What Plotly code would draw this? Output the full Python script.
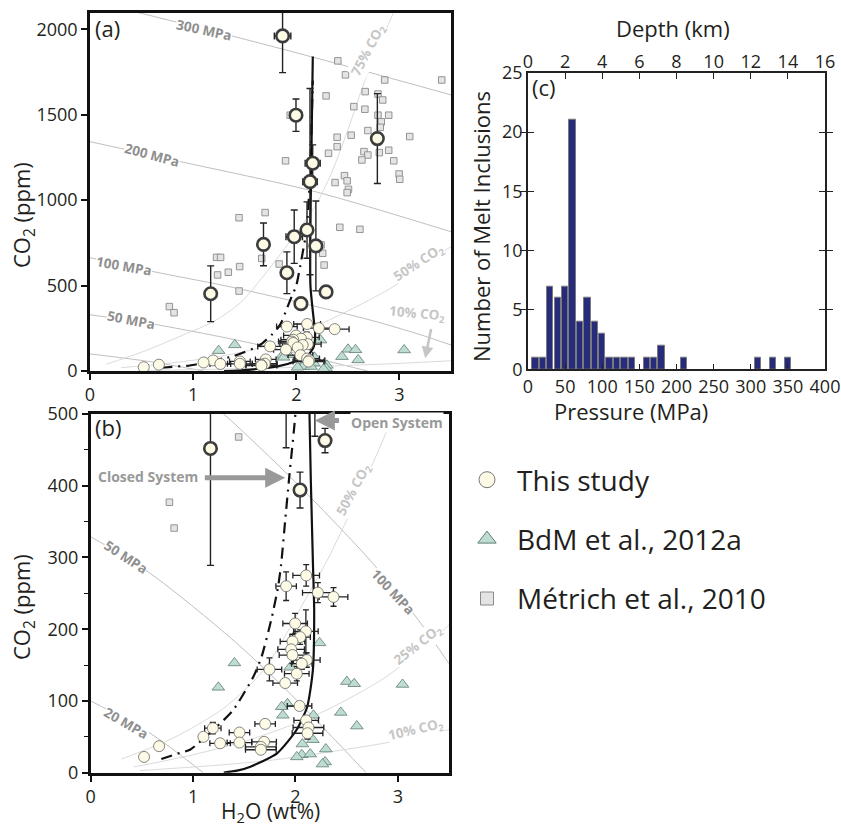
import plotly.graph_objects as go

# ---------------- data ----------------
# This study: high-CO2 inclusions (bold outline)
TS_HI_H2O = [1.867, 1.997, 2.786, 2.159, 2.133, 2.104, 1.98, 1.682, 2.19, 1.909, 1.17, 2.289, 2.045]
TS_HI_CO2 = [1961, 1497, 1360, 1216, 1108, 825, 786, 741, 732, 575, 452, 463, 394]
TS_HI_H2O_ERR = [0.08, 0, 0, 0.073, 0.07, 0, 0.08, 0, 0, 0, 0, 0, 0]
TS_HI_CO2_ERR = [215, 95, 263, 107, 545, 165, 156, 125, 263, 122, 163, 17, 25]

# This study: low-CO2 inclusions
TS_LO_H2O = [2.105, 1.909, 2.219, 2.372, 1.997, 2.102, 2.046, 1.971, 1.958, 1.971, 2.111, 2.062,
             2.013, 1.746, 1.900, 2.040, 2.105, 1.704, 2.127, 2.118, 1.193, 1.101, 1.453, 1.453,
             1.264, 1.694, 1.662, 1.662, 0.668, 0.521]
TS_LO_CO2 = [275, 260, 251, 245, 208, 197, 189, 183, 172, 164, 157, 152,
             138, 144, 125, 93, 73, 68, 63, 55, 62, 50, 56, 42,
             41, 43, 36, 32, 37, 22]
TS_LO_H2O_ERR = [0.13, 0.10, 0.15, 0.14, 0.12, 0.12, 0.10, 0.12, 0.13, 0.13, 0.13, 0.10,
                 0.12, 0.12, 0.12, 0.12, 0.12, 0.10, 0.15, 0.15, 0.08, 0, 0.10, 0.12,
                 0.10, 0.12, 0.15, 0.15, 0, 0]
TS_LO_CO2_ERR = [15, 20, 14, 13, 14, 30, 10, 10, 12, 12, 10, 8,
                 10, 16, 6, 0, 6, 5, 8, 8, 8, 0, 0, 0,
                 0, 5, 4, 0, 0, 0]

# BdM et al., 2012a
BDM_H2O = [1.404, 1.247, 2.235, 1.948, 2.502, 2.574, 3.046, 1.922, 1.866, 1.877, 2.176, 2.443,
           2.600, 2.170, 2.068, 2.297, 2.062, 2.144, 2.013, 2.290, 2.264]
BDM_CO2 = [153, 119, 181, 147, 127, 124, 123, 96, 92, 80, 80, 84,
           65, 46, 40, 33, 25, 26, 22, 15, 12]

# Métrich et al., 2010
MET_H2O = [2.403, 2.477, 2.857, 3.41, 2.289, 2.668, 2.792, 2.838, 2.558, 2.665, 2.792, 2.896,
           2.824, 2.694, 2.814, 2.532, 2.396, 2.396, 3.10, 2.312, 2.656, 2.694, 2.805, 2.896,
           2.636, 2.945, 2.997, 3.003, 2.467, 2.493, 2.376, 2.506, 2.493, 1.896, 1.698, 1.445,
           2.422, 2.617, 1.941, 1.227, 1.266, 1.665, 2.240, 2.256, 2.270, 1.237, 1.341, 1.451,
           1.834, 1.445, 0.769, 0.815]
MET_CO2 = [1815, 1733, 1703, 1703, 1610, 1635, 1621, 1586, 1547, 1532, 1497, 1497,
           1458, 1407, 1426, 1380, 1368, 1313, 1372, 1274, 1284, 1264, 1278, 1292,
           1235, 1230, 1153, 1122, 1143, 1113, 1103, 1063, 1044, 1230, 927, 897,
           841, 829, 1497, 665, 665, 659, 738, 689, 620, 562, 578, 611,
           626, 468, 377, 341]

# Isobars (H2O wt%, CO2 ppm)
P20_H2O, P20_CO2 = [0, 0.58, 1.1], [100, 55, 0]
P50_H2O, P50_CO2 = [0, 0.58, 1.39, 1.95, 2.69], [329, 278, 185, 110, 0]
P100_H2O, P100_CO2 = [0, 0.62, 1.3, 2.0, 2.73, 3.2, 3.5], [663, 581, 500, 405, 296, 213, 152]
P200_H2O, P200_CO2 = [0, 0.88, 2.18, 3.5], [1342, 1225, 1050, 815]
P300_H2O, P300_CO2 = [0.45, 1.4, 2.48, 3.5], [2100, 1957, 1785, 1616]

# Isopleths (mol% CO2 in vapour)
X10_H2O, X10_CO2 = [0.48, 1.2, 1.8, 2.24, 2.9, 3.5], [3, 10, 18, 27, 42, 60]
X25_H2O, X25_CO2 = [0.42, 1.0, 1.6, 2.24, 2.9, 3.5], [8, 25, 48, 83, 135, 206]
X50_H2O = [0.3, 0.8, 1.3, 1.7, 2.11, 2.31, 2.5, 2.7, 2.96, 3.2, 3.5]
X50_CO2 = [19, 48, 90, 145, 245, 296, 352, 413, 501, 610, 728]
X75_H2O = [0.16, 0.5, 0.9, 1.2, 1.46, 1.66, 1.95, 2.18, 2.34, 2.5, 2.68, 2.94]
X75_CO2 = [40, 110, 210, 290, 400, 540, 767, 962, 1157, 1411, 1723, 2094]

# Degassing paths
OPEN_H2O = [1.3, 1.43, 1.56, 1.82, 2.01, 2.115, 2.17, 2.183, 2.17, 2.137, 2.14, 2.16]
OPEN_CO2 = [0, 2.8, 8.4, 27, 59.5, 92, 143, 226, 296, 501, 1000, 1840]
CLOSED_H2O = [0.69, 0.88, 0.97, 1.2, 1.39, 1.59, 1.67, 1.77, 1.83, 1.86, 1.90, 1.94, 2.0, 2.04, 2.10, 2.13, 2.16]
CLOSED_CO2 = [19, 28, 32, 60, 87, 134, 162, 217, 259, 290, 352, 413, 501, 620, 830, 1100, 1700]

# Histogram (c)
HIST_P = [10, 20, 30, 40, 50, 60, 70, 80, 90, 100, 110, 120, 130, 140, 160, 170, 180, 210, 310, 330, 350]
HIST_N = [1, 1, 7, 6, 7, 21, 4, 6, 4, 3, 1, 1, 1, 1, 1, 1, 2, 1, 1, 1, 1]
DEPTH_TICKS = [0, 2, 4, 6, 8, 10, 12, 14, 16]

# ---------------- styling ----------------
W, H = 841, 827
FONT = "Open Sans"
TXT = "#231f20"
ISOBAR_C = "#b8b8b8"
ISOPLETH_C = "#d6d6d6"
LAB_BAR = "#8f8f8f"
LAB_PLE = "#c6c6c6"

def px(x):
    return x / W

def py(y):
    return 1 - y / H

fig = go.Figure()

def add_panel(xa, ya, iso_sets):
    for (xs, ys, col) in iso_sets:
        fig.add_trace(go.Scatter(x=xs, y=ys, mode="lines", line=dict(color=col, width=0.9, shape="spline", smoothing=0.8),
                                 xaxis=xa, yaxis=ya, showlegend=False, hoverinfo="skip"))
    fig.add_trace(go.Scatter(x=MET_H2O, y=MET_CO2, mode="markers", xaxis=xa, yaxis=ya, showlegend=False,
                             marker=dict(symbol="square", size=6.5, color="#e4e4e4", line=dict(color="#8a8a8a", width=0.9))))
    fig.add_trace(go.Scatter(x=BDM_H2O, y=BDM_CO2, mode="markers", xaxis=xa, yaxis=ya, showlegend=False,
                             marker=dict(symbol="triangle-up", size=11, color="#bfdcd0", line=dict(color="#5f7d74", width=0.8))))
    fig.add_trace(go.Scatter(x=OPEN_H2O, y=OPEN_CO2, mode="lines", xaxis=xa, yaxis=ya, showlegend=False,
                             line=dict(color="#111", width=2.2, shape="spline", smoothing=0.6), hoverinfo="skip"))
    fig.add_trace(go.Scatter(x=CLOSED_H2O, y=CLOSED_CO2, mode="lines", xaxis=xa, yaxis=ya, showlegend=False,
                             line=dict(color="#111", width=2.2, dash="11px,6px,2px,6px", shape="spline", smoothing=0.6),
                             hoverinfo="skip"))
    fig.add_trace(go.Scatter(x=TS_LO_H2O, y=TS_LO_CO2, mode="markers", xaxis=xa, yaxis=ya, showlegend=False,
                             error_x=dict(type="data", array=TS_LO_H2O_ERR, color="#222", thickness=1.3, width=3),
                             error_y=dict(type="data", array=TS_LO_CO2_ERR, color="#222", thickness=1.3, width=3),
                             marker=dict(symbol="circle", size=11, color="#fdfbe6", line=dict(color="#666", width=0.8))))
    fig.add_trace(go.Scatter(x=TS_HI_H2O, y=TS_HI_CO2, mode="markers", xaxis=xa, yaxis=ya, showlegend=False,
                             error_x=dict(type="data", array=TS_HI_H2O_ERR, color="#222", thickness=1.4, width=3.5),
                             error_y=dict(type="data", array=TS_HI_CO2_ERR, color="#222", thickness=1.4, width=3.5),
                             marker=dict(symbol="circle", size=12.5, color="#fdfbe6", line=dict(color="#3c3c3c", width=2.6))))

add_panel("x", "y", [
    (P20_H2O, P20_CO2, ISOBAR_C), (P50_H2O, P50_CO2, ISOBAR_C), (P100_H2O, P100_CO2, ISOBAR_C),
    (P200_H2O, P200_CO2, ISOBAR_C), (P300_H2O, P300_CO2, ISOBAR_C),
    (X10_H2O, X10_CO2, ISOPLETH_C), (X50_H2O, X50_CO2, ISOPLETH_C), (X75_H2O, X75_CO2, ISOPLETH_C),
])
add_panel("x2", "y2", [
    (P20_H2O, P20_CO2, ISOBAR_C), (P50_H2O, P50_CO2, ISOBAR_C), (P100_H2O, P100_CO2, ISOBAR_C),
    (X10_H2O, X10_CO2, ISOPLETH_C), (X25_H2O, X25_CO2, ISOPLETH_C), (X50_H2O, X50_CO2, ISOPLETH_C),
])

fig.add_trace(go.Bar(x=HIST_P, y=HIST_N, width=8.6, xaxis="x3", yaxis="y3", showlegend=False,
                     marker=dict(color="#272b7c", line=dict(color="#7a7a7a", width=1))))
fig.add_trace(go.Scatter(x=DEPTH_TICKS, y=[0] * len(DEPTH_TICKS), mode="markers", marker=dict(opacity=0),
                         xaxis="x4", yaxis="y3", showlegend=False, hoverinfo="skip"))

fig.add_trace(go.Scatter(x=[None], y=[None], mode="markers", name="This study", legendgroup="a",
                         marker=dict(symbol="circle", size=17, color="#fdfbe6", line=dict(color="#777", width=1))))
fig.add_trace(go.Scatter(x=[None], y=[None], mode="markers", name="BdM et al., 2012a", legendgroup="b",
                         marker=dict(symbol="triangle-up", size=18, color="#bfdcd0", line=dict(color="#5f7d74", width=1))))
fig.add_trace(go.Scatter(x=[None], y=[None], mode="markers", name="Métrich et al., 2010", legendgroup="c",
                         marker=dict(symbol="square", size=13, color="#e4e4e4", line=dict(color="#8a8a8a", width=1))))

tickfont = dict(family=FONT, size=18, color=TXT)
frame = dict(showline=True, linecolor="#111", linewidth=2.6, mirror=True, showgrid=False, zeroline=False,
             ticks="outside", ticklen=6, tickwidth=1.5, tickcolor="#111", tickfont=tickfont, automargin=False)

fig.update_layout(
    width=W, height=H, margin=dict(l=0, r=0, t=0, b=0, autoexpand=False),
    paper_bgcolor="white", plot_bgcolor="white",
    font=dict(family=FONT, color=TXT),
    xaxis=dict(domain=[px(90), px(451)], range=[0, 3.5], anchor="y", tickvals=[0, 1, 2, 3], **frame),
    yaxis=dict(domain=[py(371), py(13)], range=[0, 2095], anchor="x", tickvals=[0, 500, 1000, 1500, 2000], **frame),
    xaxis2=dict(domain=[px(90.7), px(449)], range=[0, 3.5], anchor="y2", tickvals=[0, 1, 2, 3], **frame),
    yaxis2=dict(domain=[py(772.7), py(414)], range=[0, 500], anchor="x2", tickvals=[0, 100, 200, 300, 400, 500],
                minor=dict(tickvals=[50, 150, 250, 350, 450], ticks="outside", ticklen=4, tickcolor="#111", tickwidth=1.2),
                **frame),
    xaxis3=dict(domain=[px(528), px(825)], range=[0, 400], anchor="y3", tickvals=list(range(0, 401, 50)),
                showline=True, linecolor="#222", linewidth=1.5, mirror=True, showgrid=False, zeroline=False,
                ticks="inside", ticklen=6, tickcolor="#222", tickfont=tickfont, automargin=False),
    yaxis3=dict(domain=[py(369.3), py(72.7)], range=[0, 25], anchor="x3", tickvals=[0, 5, 10, 15, 20, 25],
                showline=True, linecolor="#222", linewidth=1.5, mirror="allticks", showgrid=False, zeroline=False,
                ticks="inside", ticklen=6, tickcolor="#222", tickfont=tickfont, automargin=False),
    xaxis4=dict(overlaying="x3", side="top", anchor="y3", range=[0, 16], tickvals=DEPTH_TICKS,
                showline=False, showgrid=False, zeroline=False, ticks="inside", ticklen=6, tickcolor="#222",
                tickfont=tickfont, automargin=False),
    bargap=0,
    legend=dict(x=px(457), y=py(455), xanchor="left", yanchor="top", font=dict(family=FONT, size=28, color=TXT),
                tracegroupgap=20, bgcolor="rgba(0,0,0,0)", itemsizing="trace", itemwidth=50),
)

ann = []

def label(text, x, y, xr, yr, angle, color, size=13.5, bg=True):
    ann.append(dict(text="<b>" + text + "</b>", x=x, y=y, xref=xr, yref=yr, textangle=angle, showarrow=False,
                    font=dict(family=FONT, size=size, color=color),
                    bgcolor="white" if bg else "rgba(0,0,0,0)", borderpad=0))

CO2 = "CO<sub>2</sub>"
label("300 MPa", 1.11, 1996, "x", "y", 12, LAB_BAR)
label("200 MPa", 0.60, 1262, "x", "y", 15, LAB_BAR)
label("100 MPa", 0.33, 617, "x", "y", 10, LAB_BAR)
label("50 MPa", 0.40, 298, "x", "y", 11, LAB_BAR)
label("75% " + CO2, 2.70, 1880, "x", "y", -62, LAB_PLE)
label("50% " + CO2, 3.19, 630, "x", "y", -33, LAB_PLE)
label("10% " + CO2, 3.17, 336, "x", "y", 5, LAB_PLE)
ann.append(dict(x=3.25, y=74, ax=3.31, ay=255, xref="x", yref="y", axref="x", ayref="y", text="",
                showarrow=True, arrowhead=2, arrowsize=0.9, arrowwidth=2.6, arrowcolor=LAB_PLE))
label("50 MPa", 0.345, 301, "x2", "y2", 33, LAB_BAR)
label("20 MPa", 0.345, 69, "x2", "y2", 30, LAB_BAR)
label("100 MPa", 2.955, 252, "x2", "y2", 47, LAB_BAR)
label("50% " + CO2, 2.57, 394, "x2", "y2", -62, LAB_PLE)
label("25% " + CO2, 3.20, 178, "x2", "y2", -38, LAB_PLE)
label("10% " + CO2, 3.18, 59, "x2", "y2", -13, LAB_PLE)
label("Open System", 2.99, 488, "x2", "y2", 0, "#999999", size=14)
label("Closed System", 0.56, 413, "x2", "y2", 0, "#999999", size=14)
ann.append(dict(x=2.19, y=491, ax=2.44, ay=491, xref="x2", yref="y2", axref="x2", ayref="y2", text="",
                showarrow=True, arrowhead=2, arrowsize=0.8, arrowwidth=5, arrowcolor="#999999"))
ann.append(dict(x=1.90, y=411, ax=1.10, ay=411, xref="x2", yref="y2", axref="x2", ayref="y2", text="",
                showarrow=True, arrowhead=2, arrowsize=0.8, arrowwidth=5, arrowcolor="#999999"))

for t, x, y in [("(a)", 93, 28), ("(b)", 93, 427), ("(c)", 530, 87)]:
    ann.append(dict(text=t, x=px(x), y=py(y), xref="paper", yref="paper", xanchor="left", yanchor="middle",
                    showarrow=False, font=dict(family=FONT, size=22, color=TXT)))

for t, x, y, a, s in [(CO2 + " (ppm)", 23, 215, -90, 22), (CO2 + " (ppm)", 23, 607, -90, 22),
                      ("H<sub>2</sub>O (wt%)", 270, 812, 0, 21), ("Number of Melt Inclusions", 481, 227, -90, 22),
                      ("Pressure (MPa)", 631, 411, 0, 22), ("Depth (km)", 673, 28, 0, 22)]:
    ann.append(dict(text=t, x=px(x), y=py(y), xref="paper", yref="paper", xanchor="center", yanchor="middle",
                    textangle=a, showarrow=False, font=dict(family=FONT, size=s, color=TXT)))

fig.update_layout(annotations=ann)
fig.write_html("out.html", config={"displayModeBar": False},
               post_script="document.body.style.margin='0px';document.body.style.padding='0px';"
                           "document.body.style.overflow='hidden';")
